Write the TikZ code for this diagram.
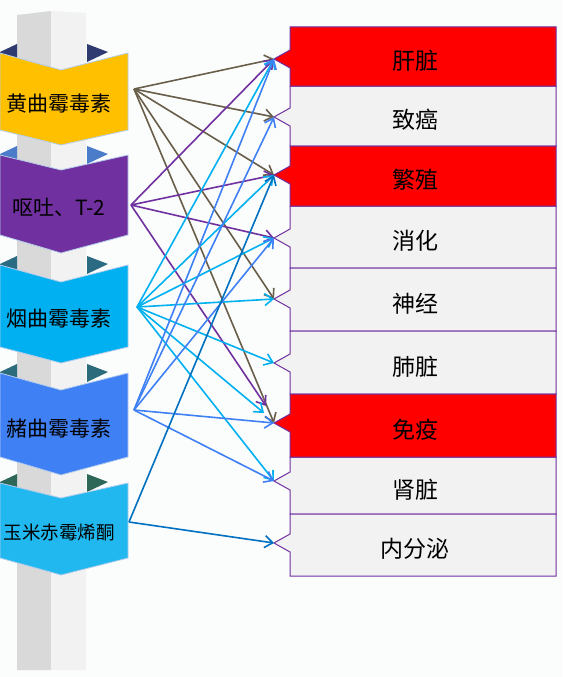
\documentclass[tikz,border=0pt]{standalone}
\usepackage{fontspec}
\setmainfont{Noto Sans CJK SC}
\usetikzlibrary{arrows.meta}
\definecolor{bg}{RGB}{251,253,253}
\definecolor{pilL}{RGB}{217,217,217}
\definecolor{pilR}{RGB}{242,242,242}
\definecolor{cyel}{RGB}{255,192,0}
\definecolor{cpur}{RGB}{112,48,160}
\definecolor{ccya}{RGB}{0,176,240}
\definecolor{cblu}{RGB}{64,128,245}
\definecolor{clbl}{RGB}{32,184,238}
\definecolor{cdbl}{RGB}{0,112,192}
\definecolor{cbro}{RGB}{104,94,74}
\definecolor{fold1}{RGB}{46,58,112}
\definecolor{fold2}{RGB}{74,124,201}
\definecolor{fold3}{RGB}{43,106,131}
\definecolor{fold4}{RGB}{44,107,123}
\definecolor{fold5}{RGB}{46,102,88}
\definecolor{bedge}{RGB}{180,205,235}
\definecolor{boxgray}{RGB}{242,242,242}
\definecolor{boxred}{RGB}{255,0,0}
\tikzset{
  bannertext/.style={font=\fontsize{21}{25}\selectfont, inner sep=0pt, text=black},
  boxtext/.style={font=\fontsize{23}{27}\selectfont, inner sep=0pt, text=black},
  boxline/.style={draw=cpur, line width=1pt},
  bannerline/.style={draw=bedge, line width=0.8pt},
  conn/.style={line width=1.6pt, -{Straight Barb[length=8pt,width=12pt]}},
}
\newcommand{\organbox}[6]{%
  \draw[boxline, fill=#4] (290,#1) -- (556,#1) -- (556,#2) -- (290,#2) -- (290,#3+9) -- (274,#3) -- (290,#3-9) -- cycle;
  \coordinate (#5) at (274,#3);
  \node[boxtext] (#5txt) at (415,{(#1+#2)/2+4}) {#6};
}
\newcommand{\ribbon}[8]{%
  \fill[#6] (0,#1-1) -- (17,#1-9) -- (17,#1+8) -- (0,#1+8) -- cycle;
  \fill[#6] (87,#1-9) -- (108,#1-1) -- (87,#1+9) -- cycle;
  \filldraw[bannerline, fill=#5] (0,#1) -- (61,#2) -- (128,#1) -- (128,#3) -- (61,#4) -- (0,#3) -- cycle;
  \node[bannertext] (#7) at (59,{(#2+#4)/2-4}) {#8};
}
\begin{document}
\begin{tikzpicture}[x=1pt,y=-1pt]
\useasboundingbox (0,0) rectangle (562,677);
\fill[bg] (0,0) rectangle (562,677);
% pillar
\fill[pilL] (17,15) -- (51,11) -- (51,670) -- (17,670) -- cycle;
\fill[pilR] (51,11) -- (86,13) -- (86,670) -- (51,670) -- cycle;
% ribbons
\ribbon{53}{70}{130}{145}{cyel}{fold1}{m1}{黄曲霉毒素}
\ribbon{155}{170}{235}{253}{cpur}{fold2}{m2}{呕吐、T-2}
\ribbon{265}{282}{347}{363}{ccya}{fold3}{m3}{烟曲霉毒素}
\ribbon{373}{390}{457}{475}{cblu}{fold4}{m4}{赭曲霉毒素}
\begin{scope}[bannertext/.append style={font=\fontsize{18.5}{22}\selectfont}]
\ribbon{483}{498}{558}{575}{clbl}{fold5}{m5}{玉米赤霉烯酮}
\end{scope}
% organ boxes
\organbox{86}{146}{117}{boxgray}{t2}{致癌}
\organbox{206}{268}{238}{boxgray}{t4}{消化}
\organbox{268}{331}{299}{boxgray}{t5}{神经}
\organbox{331}{394}{363}{boxgray}{t6}{肺脏}
\organbox{457}{514}{481}{boxgray}{t8}{肾脏}
\organbox{514}{576}{543}{boxgray}{t9}{内分泌}
\organbox{27}{86}{59}{boxred}{t1}{肝脏}
\organbox{146}{206}{175}{boxred}{t3}{繁殖}
\organbox{394}{457}{423}{boxred}{t7}{免疫}
\coordinate (t7p) at (266,406);
\coordinate (t7c) at (264,413);
% sources
\coordinate (s1) at (134,89);
\coordinate (s2) at (131,205);
\coordinate (s3) at (137,307);
\coordinate (s4) at (134,410);
\coordinate (s5) at (129,522);
% connectors
\foreach \t in {t1,t2,t3,t5,t7} \draw[conn, cbro] (s1) -- (\t);
\foreach \t in {t1,t3,t4,t7p} \draw[conn, cpur] (s2) -- (\t);
\foreach \t in {t1,t3,t4,t5,t6,t7c,t8} \draw[conn, ccya] (s3) -- (\t);
\foreach \t in {t1,t2,t4,t7,t8} \draw[conn, cblu] (s4) -- (\t);
\foreach \t in {t3,t9} \draw[conn, cdbl] (s5) -- (\t);
\end{tikzpicture}
\end{document}
